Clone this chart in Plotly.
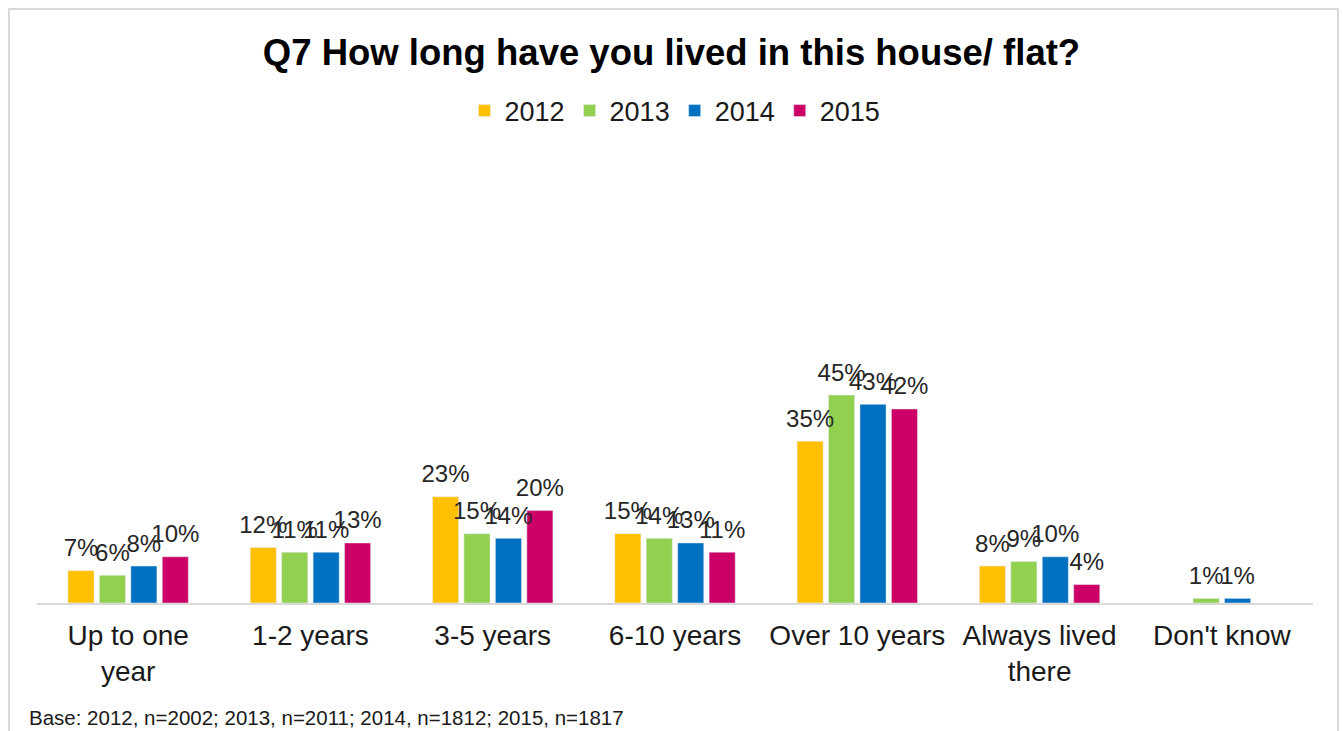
import plotly.graph_objects as go

categories = ["Up to one<br>year", "1-2 years", "3-5 years", "6-10 years",
              "Over 10 years", "Always lived<br>there", "Don't know"]
years = ["2012", "2013", "2014", "2015"]
v2012 = [7, 12, 23, 15, 35, 8, None]
v2013 = [6, 11, 15, 14, 45, 9, 1]
v2014 = [8, 11, 14, 13, 43, 10, 1]
v2015 = [10, 13, 20, 11, 42, 4, None]
colors = ["#FFC000", "#92D050", "#0070C0", "#CC0066"]

W, H = 1343, 731
ml, mr, mt, mb = 37, 30, 141, 128
pw, ph = W - ml - mr, H - mt - mb
FONT = "Liberation Sans, Arial"

fig = go.Figure()
for name, vals, col in zip(years, [v2012, v2013, v2014, v2015], colors):
    fig.add_trace(go.Bar(
        name=name, x=categories, y=vals, marker_color=col,
        offsetgroup=name,
    ))
for name, vals in zip(years, [v2012, v2013, v2014, v2015]):
    fig.add_trace(go.Scatter(
        x=categories, y=vals, mode="markers+text", offsetgroup=name,
        marker=dict(size=12, opacity=0), showlegend=False, hoverinfo="skip",
        text=[("" if v is None else f"{v}%") for v in vals],
        textposition="top center", cliponaxis=False,
        textfont=dict(family=FONT, size=24, color="#262626"),
    ))

def px_x(x):
    return (x - ml) / pw

def px_y(y):
    return (H - mb - y) / ph

fig.update_layout(
    width=W, height=H,
    margin=dict(l=ml, r=mr, t=mt, b=mb),
    paper_bgcolor="white", plot_bgcolor="white",
    barmode="group", bargap=0.31, bargroupgap=0.17,
    scattermode="group", scattergap=0.31,
    font=dict(family=FONT, color="#1a1a1a"),
    title=dict(text="<b>Q7 How long have you lived in this house/ flat?</b>",
               x=0.5, xanchor="center", y=1 - 52 / H, yanchor="middle",
               font=dict(size=36.5, color="#000000")),
    legend=dict(orientation="h", x=px_x(675), xanchor="center",
                y=px_y(111), yanchor="middle",
                font=dict(size=27, color="#1a1a1a"), traceorder="normal",
                itemwidth=30),
    showlegend=True,
    xaxis=dict(showgrid=False, showline=True, linecolor="#d9d9d9", linewidth=2,
               ticks="", tickfont=dict(size=28, color="#1a1a1a"),
               ticklabelstandoff=6),
    yaxis=dict(range=[0, 100], visible=False),
    shapes=[dict(type="rect", xref="paper", yref="paper",
                 x0=px_x(9), x1=px_x(1338), y0=px_y(740), y1=px_y(9),
                 line=dict(color="#d9d9d9", width=2), layer="below")],
    annotations=[dict(text="Base: 2012, n=2002; 2013, n=2011; 2014, n=1812; 2015, n=1817",
                      xref="paper", yref="paper", x=px_x(27), y=px_y(717),
                      xanchor="left", yanchor="middle", showarrow=False,
                      font=dict(size=20.5, color="#1a1a1a"))],
)

fig.write_html("out.html", config={"displayModeBar": False},
               post_script="document.body.style.margin='0';document.body.style.overflow='hidden';")
